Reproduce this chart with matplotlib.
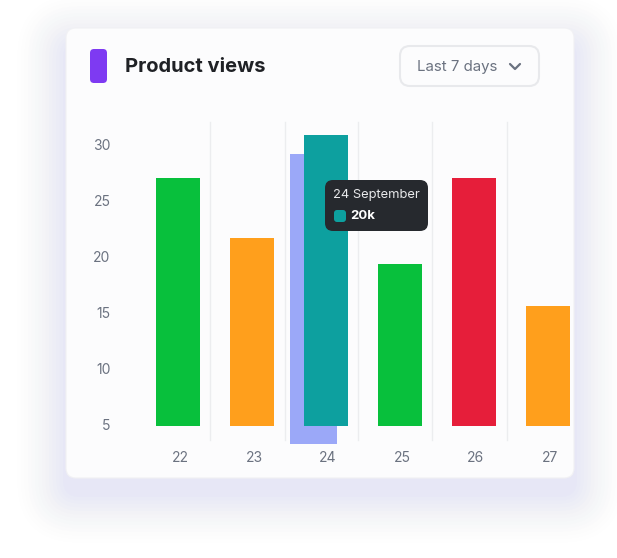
import numpy as np
import matplotlib
matplotlib.use("Agg")
import matplotlib.pyplot as plt
from matplotlib.patches import FancyBboxPatch

plt.rcParams['font.family'] = ['Inter', 'DejaVu Sans']

# data
days = ["22", "23", "24", "25", "26", "27"]
views = [27.0, 21.6, 30.8, 19.3, 27.0, 15.5]
bar_colors = ["#08C03C", "#FF9F1C", "#0DA09F", "#08C03C", "#E61E3A", "#FF9F1C"]
ghost_top = 29.1      # highlighted bar behind day 24
ghost_bottom = 3.2
base = 4.8
yticks = [5, 10, 15, 20, 25, 30]

W, H = 617, 558
fig = plt.figure(figsize=(W / 100, H / 100), dpi=100)
fig.patch.set_facecolor("white")

# background layer in pixel coords
bg = fig.add_axes([0, 0, 1, 1], zorder=0)
bg.set_xlim(0, W)
bg.set_ylim(H, 0)
bg.axis("off")

card = (66, 28, 508, 450)  # x, y, w, h
# soft lavender glow
for i, a in enumerate(np.linspace(0.045, 0.01, 14)):
    g = 3 + i * 3.5
    bg.add_patch(FancyBboxPatch((card[0] - g, card[1] - g + 16), card[2] + 2 * g, card[3] + 2 * g,
                                boxstyle="round,pad=0,rounding_size=%d" % (14 + g),
                                fc="#C6CAF6", ec="none", alpha=a))
bg.add_patch(FancyBboxPatch((card[0], card[1]), card[2], card[3],
                            boxstyle="round,pad=0,rounding_size=10",
                            fc="#FCFCFD", ec="#F1F1F4", lw=0.8))

# header
bg.add_patch(FancyBboxPatch((90, 49), 17, 34, boxstyle="round,pad=0,rounding_size=4",
                            fc="#7E3AF2", ec="none"))
bg.text(125, 67, "Product views", fontsize=14.5, fontweight="bold", color="#1F2125",
        va="center", ha="left")
bg.add_patch(FancyBboxPatch((400, 46), 139, 40, boxstyle="round,pad=0,rounding_size=10",
                            fc="#FCFCFD", ec="#E8E9EC", lw=1.5))
bg.text(417, 67, "Last 7 days", fontsize=10.8, color="#6B7280", va="center", ha="left")
bg.plot([510, 515, 520], [64, 69, 64], color="#6B7280", lw=1.6, solid_capstyle="round",
        solid_joinstyle="round")

# chart axes: x=22 at px 180, 74 px per day; y=5 at px 424, 11.2 px per unit
left_px, right_px, top_px, bot_px = 130, 575, 120, 450
x_of = lambda px: 22 + (px - 180) / 74
y_of = lambda py: 5 + (424 - py) / 11.2
ax = fig.add_axes([left_px / W, 1 - bot_px / H, (right_px - left_px) / W, (bot_px - top_px) / H],
                  zorder=1)
ax.patch.set_alpha(0)
ax.set_xlim(x_of(left_px), x_of(right_px))
ax.set_ylim(y_of(bot_px), y_of(top_px))
for s in ax.spines.values():
    s.set_visible(False)

x = np.arange(22, 22 + len(days))
# vertical grid lines between days
for gx in [210, 285, 358, 432, 507]:
    ax.plot([x_of(gx)] * 2, [y_of(440), y_of(122)], color="#ECEDEF", lw=1, zorder=0)

ax.bar(24 - 0.2, ghost_top - ghost_bottom, bottom=ghost_bottom, width=0.635,
       color="#9BA8F8", zorder=1)
heights = [v - base for v in views]
ax.bar(x - 0.03, heights, bottom=base, width=0.6, color=bar_colors, zorder=2)

ax.set_xticks(x)
ax.set_xticklabels(days)
ax.set_yticks(yticks)
ax.set_yticklabels([str(t) for t in yticks])
ax.tick_params(length=0, labelsize=10, labelcolor="#6B7280")
ax.tick_params(axis="y", pad=14)
ax.tick_params(axis="x", pad=1)

# tooltip overlay
tt = fig.add_axes([0, 0, 1, 1], zorder=3)
tt.set_xlim(0, W)
tt.set_ylim(H, 0)
tt.axis("off")
tt.patch.set_alpha(0)
tt.add_patch(FancyBboxPatch((325, 180), 103, 51, boxstyle="round,pad=0,rounding_size=8",
                            fc="#26292E", ec="none"))
tt.text(333, 195, "24 September", fontsize=9.3, color="#E8E9EB", va="center", ha="left")
tt.add_patch(FancyBboxPatch((334, 210), 12, 12, boxstyle="round,pad=0,rounding_size=3",
                            fc="#0DA09F", ec="none"))
tt.text(350, 216, "20k", fontsize=9.5, fontweight="bold", color="white", va="center", ha="left")

fig.savefig("out.png", dpi=100)
